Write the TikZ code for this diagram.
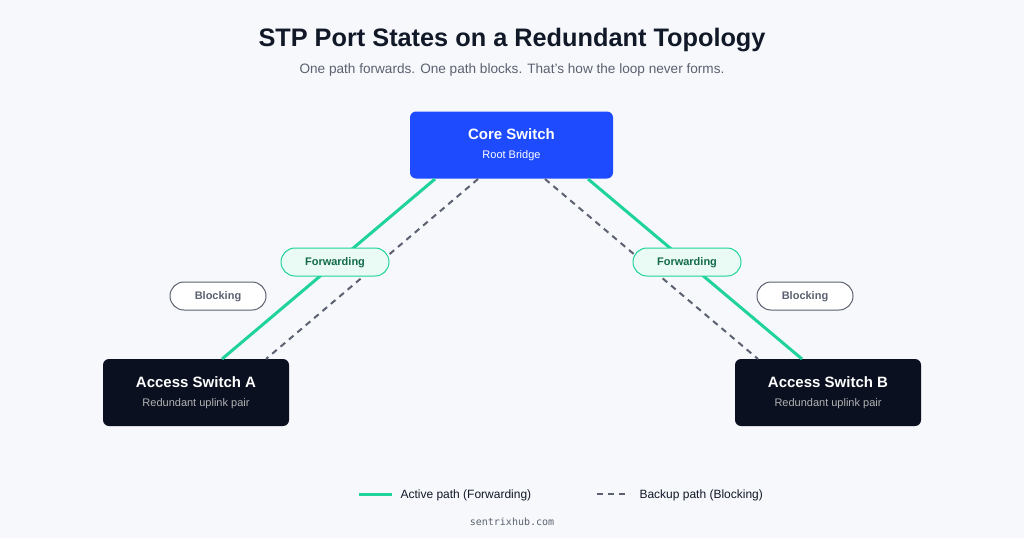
\documentclass[tikz,border=0pt]{standalone}
\usepackage{fontspec}
\setmainfont{Liberation Sans}
\setmonofont{DejaVu Sans Mono}
\definecolor{bg}{HTML}{F6F8FB}
\definecolor{core}{HTML}{1F4BFF}
\definecolor{dark}{HTML}{0B1020}
\definecolor{grn}{HTML}{1FD39A}
\definecolor{grnfill}{HTML}{E9FBF4}
\definecolor{grntext}{HTML}{136B4A}
\definecolor{gry}{HTML}{5B6170}
\definecolor{title}{HTML}{111827}
\begin{document}
\begin{tikzpicture}[x=1pt,y=-1pt,
  box/.style={rounded corners=6pt,minimum height=67pt,align=center,text=white,inner sep=0pt},
  fwd/.style={line width=3pt,draw=grn},
  blk/.style={line width=2pt,draw=gry,dash pattern=on 6pt off 5pt},
  fpill/.style={rounded corners=14pt,draw=grn,fill=grnfill,line width=1pt,minimum width=108pt,minimum height=28pt,text=grntext,font=\fontsize{11}{13}\selectfont\bfseries},
  bpill/.style={rounded corners=14pt,draw=gry,fill=white,line width=1pt,minimum width=96pt,minimum height=28pt,text=gry,font=\fontsize{11}{13}\selectfont\bfseries}]
\fill[bg] (0,0) rectangle (1024,538);
\useasboundingbox (0,0) rectangle (1024,538);
\node[text=title,font=\fontsize{25.3}{30}\selectfont\bfseries] (t) at (512,40) {STP Port States on a Redundant Topology};
\node[text=gry,font=\fontsize{13.6}{16}\selectfont] (st) at (512,69.5) {One path forwards. One path blocks. That's how the loop never forms.};
\node[box,fill=core,minimum width=203pt] (core) at (511.5,145) {{\fontsize{15}{18}\selectfont\bfseries Core Switch}\\[7pt]{\fontsize{11}{13}\selectfont Root Bridge}};
\node[box,fill=dark,minimum width=186pt] (a) at (196,392.5) {{\fontsize{15}{18}\selectfont\bfseries Access Switch A}\\[7pt]{\fontsize{11}{13}\selectfont\color{gray!60} Redundant uplink pair}};
\node[box,fill=dark,minimum width=186pt] (b) at (828,392.5) {{\fontsize{15}{18}\selectfont\bfseries Access Switch B}\\[7pt]{\fontsize{11}{13}\selectfont\color{gray!60} Redundant uplink pair}};
\coordinate (c1) at (435,179); \coordinate (a1) at (222,359);
\coordinate (c2) at (478,179); \coordinate (a2) at (266,359);
\coordinate (c3) at (588,179); \coordinate (b1) at (802,359);
\coordinate (c4) at (545,179); \coordinate (b2) at (758,359);
\draw[blk] (c2) -- (a2);
\draw[blk] (c4) -- (b2);
\draw[fwd] (c1) -- (a1);
\draw[fwd] (c3) -- (b1);
\node[fpill,text depth=0pt] (f1) at (335,262) {Forwarding};
\node[fpill,text depth=0pt] (f2) at (687,262) {Forwarding};
\node[bpill,text depth=0pt] (k1) at (218,296) {Blocking};
\node[bpill,text depth=0pt] (k2) at (805,296) {Blocking};
\coordinate (l1) at (359,494); \coordinate (l2) at (392,494);
\coordinate (l3) at (597,494); \coordinate (l4) at (630,494);
\draw[fwd] (l1) -- (l2);
\draw[blk] (l3) -- (l4);
\node[anchor=west,font=\fontsize{12}{14}\selectfont,text=title] (lt1) at (397,495) {Active path (Forwarding)};
\node[anchor=west,font=\fontsize{12}{14}\selectfont,text=title] (lt2) at (636,495) {Backup path (Blocking)};
\node[font=\ttfamily\fontsize{10}{12}\selectfont,text=gry] (ft) at (512,521.5) {sentrixhub.com};
\end{tikzpicture}
\end{document}
